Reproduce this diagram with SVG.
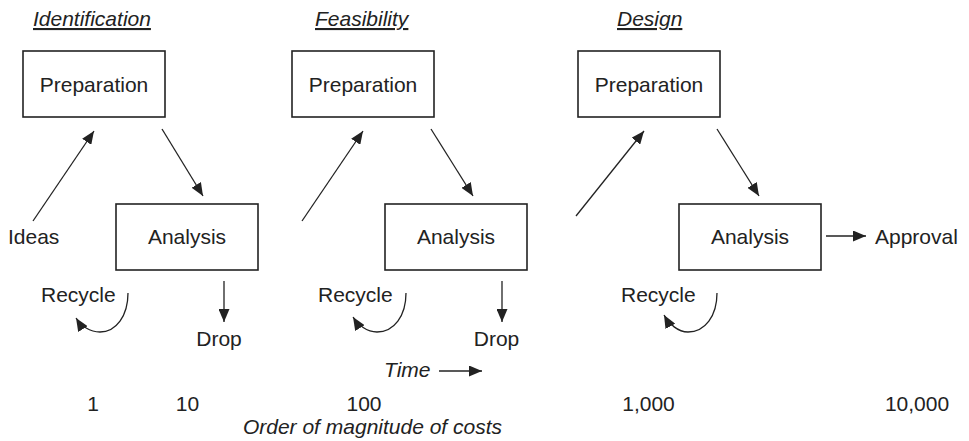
<svg xmlns="http://www.w3.org/2000/svg" width="969" height="441" viewBox="0 0 969 441">
  <style>
    text { font-family: "Liberation Sans", Arial, Helvetica, sans-serif; font-size: 21px; fill: #222; }
    .title { font-style: italic; text-decoration: underline; }
    .it { font-style: italic; }
    .mid { text-anchor: middle; }
    .box { fill: #fff; stroke: #222; stroke-width: 1.6; }
    .conn { fill: none; stroke: #222; stroke-width: 1.3; }
  </style>
  <defs>
    <marker id="arrow" markerUnits="userSpaceOnUse" markerWidth="13" markerHeight="11" viewBox="0 0 13 11" refX="13" refY="5.5" orient="auto">
      <path d="M0,0 L13,5.5 L0,11 z" fill="#222"/>
    </marker>
  </defs>
  <rect width="969" height="441" fill="#fff"/>

  <!-- Stage titles -->
  <text class="title" x="33" y="26">Identification</text>
  <text class="title" x="315" y="26">Feasibility</text>
  <text class="title" x="617" y="26">Design</text>

  <!-- Identification stage -->
  <g id="prep1"><rect class="box" x="23" y="51" width="142" height="66"/><text class="mid" x="94" y="92">Preparation</text></g>
  <g id="ana1"><rect class="box" x="116" y="204" width="142" height="66"/><text class="mid" x="187" y="244">Analysis</text></g>
  <g id="ideas"><text x="8" y="244">Ideas</text></g>
  <g id="recycle1"><text x="41" y="302">Recycle</text></g>
  <g id="drop1"><text class="mid" x="219" y="346">Drop</text></g>

  <!-- Feasibility stage -->
  <g id="prep2"><rect class="box" x="292" y="51" width="142" height="66"/><text class="mid" x="363" y="92">Preparation</text></g>
  <g id="ana2"><rect class="box" x="385" y="204" width="142" height="66"/><text class="mid" x="456" y="244">Analysis</text></g>
  <g id="recycle2"><text x="318" y="302">Recycle</text></g>
  <g id="drop2"><text class="mid" x="496.5" y="346">Drop</text></g>

  <!-- Design stage -->
  <g id="prep3"><rect class="box" x="578" y="51" width="142" height="66"/><text class="mid" x="649" y="92">Preparation</text></g>
  <g id="ana3"><rect class="box" x="679" y="204" width="142" height="66"/><text class="mid" x="750" y="244">Analysis</text></g>
  <g id="recycle3"><text x="621" y="302">Recycle</text></g>
  <g id="approval"><text x="875" y="244">Approval</text></g>

  <!-- Connectors -->
  <g id="connectors" class="conn">
    <line class="conn" x1="33" y1="221" x2="94" y2="131" marker-end="url(#arrow)"/>
    <line class="conn" x1="162" y1="129" x2="203" y2="196" marker-end="url(#arrow)"/>
    <path class="conn" d="M128,293 C128,316 116,332 100,332 C90,332 81,326 76,318" marker-end="url(#arrow)"/>
    <line class="conn" x1="224" y1="281" x2="224" y2="322" marker-end="url(#arrow)"/>

    <line class="conn" x1="302" y1="221" x2="363" y2="131" marker-end="url(#arrow)"/>
    <line class="conn" x1="431" y1="129" x2="473" y2="196" marker-end="url(#arrow)"/>
    <path class="conn" d="M406,293 C406,316 394,332 377,332 C367,332 358,325 353,317" marker-end="url(#arrow)"/>
    <line class="conn" x1="502" y1="281" x2="502" y2="322" marker-end="url(#arrow)"/>

    <line class="conn" x1="576" y1="216" x2="644" y2="131" marker-end="url(#arrow)"/>
    <line class="conn" x1="717" y1="129" x2="759" y2="196" marker-end="url(#arrow)"/>
    <path class="conn" d="M717,293 C717,316 705,332 688,332 C678,332 669,324 664,315" marker-end="url(#arrow)"/>
    <line class="conn" x1="826" y1="236" x2="866" y2="236" marker-end="url(#arrow)"/>

    <line class="conn" x1="439" y1="371" x2="482" y2="371" marker-end="url(#arrow)"/>
  </g>

  <!-- Time axis and cost scale -->
  <text class="it" x="384" y="377">Time</text>
  <text class="mid" x="93" y="411">1</text>
  <text class="mid" x="187.5" y="411">10</text>
  <text class="mid" x="364" y="411">100</text>
  <text class="mid" x="648.5" y="411">1,000</text>
  <text class="mid" x="917" y="411">10,000</text>
  <text class="it mid" x="372.5" y="434">Order of magnitude of costs</text>
</svg>
